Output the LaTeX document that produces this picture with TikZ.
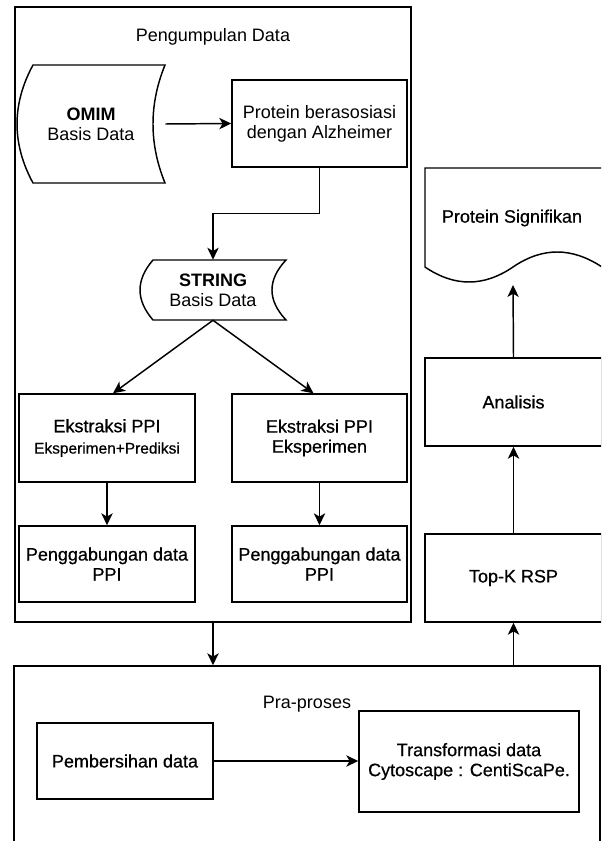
\documentclass[tikz,border=0pt]{standalone}
\usepackage{fontspec}
\setmainfont{Liberation Sans}
\newfontfamily\semib[FakeBold=0.6]{Liberation Sans}
\usetikzlibrary{arrows.meta,calc}
\tikzset{
  base/.style={font=\fontsize{13.5}{15}\selectfont, text=black},
  heavy/.style={font=\fontsize{13.5}{15}\selectfont\semib},
  box/.style={base, draw=black, line width=1.1pt, inner sep=0pt, align=center},
  label/.style={base, inner sep=0pt, align=center},
  shape line/.style={draw=black, line width=1.1pt},
  arr/.style={draw=black, line width=1.1pt, -{Stealth[length=9pt,width=8.5pt,inset=2.5pt]}},
}
\begin{document}
\begin{tikzpicture}[x=0.75pt,y=-0.75pt]
\useasboundingbox (0,0) rectangle (601,841);
\clip (0,0) rectangle (601,841);
\fill[white] (0,0) rectangle (601,841);

% Pengumpulan Data container
\node[box, minimum width=297pt, minimum height=461.25pt] (collect) at (213,314.5) {};
\node[label] (ttl) at (213,37) {Pengumpulan Data};

% OMIM data storage shape
\path[shape line] (33,65) -- (165,65) .. controls (149,104.3) and (149,143.7) .. (165,183)
  -- (33,183) .. controls (11.7,143.7) and (11.7,104.3) .. (33,65) -- cycle;
\node[label, minimum width=111pt, minimum height=88.5pt] (omim) at (91,124) {\textbf{OMIM}\\Basis Data};

\node[box, minimum width=131.25pt, minimum height=65.25pt] (prot) at (319.5,123.5) {Protein berasosiasi\\dengan Alzheimer};

% STRING data storage shape
\path[shape line] (153,260) -- (286,260) .. controls (267.3,280) and (267.3,300) .. (286,320)
  -- (153,320) .. controls (135.7,300) and (135.7,280) .. (153,260) -- cycle;
\node[label, minimum width=109.5pt, minimum height=45pt] (stringdb) at (213,290) {\textbf{STRING}\\Basis Data};

\node[box, heavy, minimum width=132pt, minimum height=66pt] (eks1) at (107,438)
  {Ekstraksi PPI\\[1pt]{\fontsize{11.6}{13}\selectfont Eksperimen+Prediksi}};
\node[box, heavy, minimum width=131.25pt, minimum height=66pt] (eks2) at (319.5,438) {Ekstraksi PPI\\Eksperimen};
\node[box, heavy, minimum width=132pt, minimum height=57pt] (gab1) at (107,564) {Penggabungan data\\PPI};
\node[box, heavy, minimum width=131.25pt, minimum height=57pt] (gab2) at (319.5,564) {Penggabungan data\\PPI};

% Pra-proses container
\node[box, minimum width=439.5pt, minimum height=150pt] (pra) at (307,766) {};
\node[label] (prattl) at (307,704) {Pra-proses};
\node[box, heavy, minimum width=132pt, minimum height=57pt] (pemb) at (125,761) {Pembersihan data};
\node[box, heavy, minimum width=165pt, minimum height=75.75pt] (trans) at (469,761.5) {Transformasi data\\Cytoscape : CentiScaPe.};

% right column
\node[box, heavy, minimum width=132.75pt, minimum height=66pt] (topk) at (513.5,578) {Top-K RSP};
\node[box, heavy, minimum width=132.75pt, minimum height=66pt] (anal) at (513.5,402) {Analisis};

% Protein Signifikan document shape
\path[shape line] (425,168) -- (602,168) -- (602,267) .. controls (571.7,247) and (542.3,247) .. (513,267)
  .. controls (483.7,287) and (454.3,287) .. (425,267) -- cycle;
\node[label, heavy] (psig) at (512,218) {Protein Signifikan};
\coordinate (psigbottom) at (513,285);

% connectors
\draw[arr] (omim.east) -- (prot.west);
\draw[arr] (prot.south) -- ++(0,46) -| (stringdb.north);
\draw[arr] (stringdb.south) -- ($(eks1.north)+(6,0)$);
\draw[arr] (stringdb.south) -- ($(eks2.north)+(-6,0)$);
\draw[arr] (eks1.south) -- (gab1.north);
\draw[arr] (eks2.south) -- (gab2.north);
\draw[arr] (collect.south) -- (collect.south |- pra.north);
\draw[arr] (pemb.east) -- (pemb.east -| trans.west);
\draw[arr] (topk.south |- pra.north) -- (topk.south);
\draw[arr] (topk.north) -- (anal.south);
\draw[arr] (anal.north) -- (psigbottom);
\end{tikzpicture}
\end{document}
